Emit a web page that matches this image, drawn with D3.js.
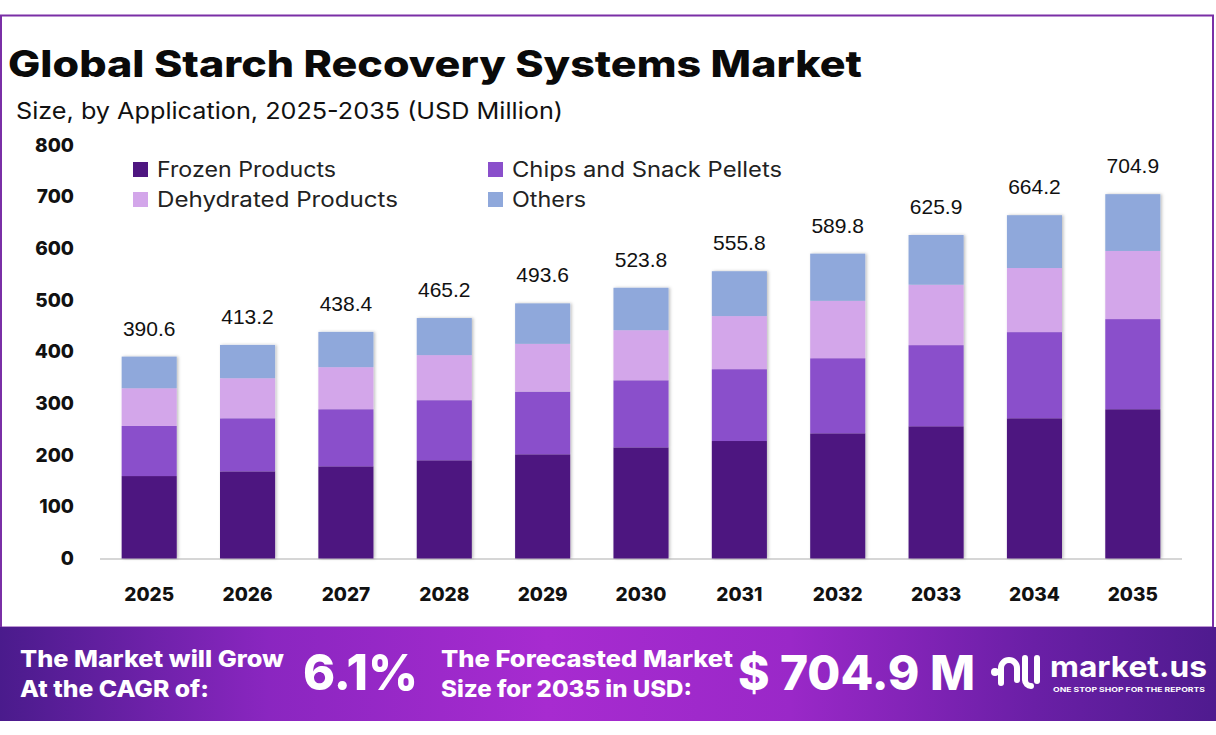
<!DOCTYPE html>
<html><head><meta charset="utf-8">
<script src="https://cdn.jsdelivr.net/npm/d3@7/dist/d3.min.js"></script>
<style>body{margin:0;background:#fff;}svg{display:block;font-family:Inter,"Open Sans",sans-serif;}</style>
</head><body>
<svg id="c" width="1216" height="735"></svg>
<script>
const years = ["2025","2026","2027","2028","2029","2030","2031","2032","2033","2034","2035"];
const totals = [390.6,413.2,438.4,465.2,493.6,523.8,555.8,589.8,625.9,664.2,704.9];
const frozen = [159.5,168.6,178.3,190.0,201.6,215.0,227.3,242.2,255.8,271.3,288.8];
const chips = [96.9,102.7,110.5,116.3,121.3,129.8,139.0,145.3,157.0,166.7,174.4];
const dehydrated = [73.0,77.5,81.4,87.2,92.4,96.9,102.7,111.0,116.9,124.0,131.8];
const others = [61.2,64.4,68.2,71.7,78.3,82.1,86.8,91.3,96.2,102.2,109.9];
const seriesNames = ["Frozen Products","Chips and Snack Pellets","Dehydrated Products","Others"];
const yTicks = [0,100,200,300,400,500,600,700,800];
const colors = ["#4e1680","#8a4fcb","#d3a6ea","#8fa8db"];

const svg = d3.select("#c");
const defs = svg.append("defs");
const sh = defs.append("filter").attr("id","sh").attr("x","-20%").attr("y","-5%").attr("width","140%").attr("height","110%");
sh.append("feDropShadow").attr("dx",1.5).attr("dy",0).attr("stdDeviation",1.5).attr("flood-color","#000").attr("flood-opacity",0.25);
const grad = defs.append("linearGradient").attr("id","bg").attr("x1","0").attr("x2","1").attr("y1","0").attr("y2","0");
[["0%","#4a1b8c"],["22%","#8a26c0"],["45%","#a72bd0"],["65%","#9a28c8"],["85%","#6a1fa6"],["100%","#4f1b8f"]].forEach(s=>grad.append("stop").attr("offset",s[0]).attr("stop-color",s[1]));

// frame
svg.append("rect").attr("x",1).attr("y",15.5).attr("width",1212).attr("height",612).attr("fill","none").attr("stroke","#7a2fa6").attr("stroke-width",2);

// titles
svg.append("text").attr("x",8).attr("y",77).attr("font-size",37).attr("font-weight",800).attr("fill","#0a0a0a")
  .attr("textLength",854).attr("lengthAdjust","spacingAndGlyphs").text("Global Starch Recovery Systems Market");
svg.append("text").attr("x",16).attr("y",119).attr("font-size",23).attr("font-weight",400).attr("fill","#111")
  .attr("textLength",547).attr("lengthAdjust","spacingAndGlyphs").text("Size, by Application, 2025-2035 (USD Million)");

// scales
const x = d3.scaleBand().domain(years).range([100,1182]).paddingInner(0.44).paddingOuter(0.22);
const y = d3.scaleLinear().domain([0,800]).range([558.5,145]);

// axes
const yAx = svg.append("g").attr("transform","translate(74,0)")
  .call(d3.axisLeft(y).tickValues(yTicks).tickSize(0).tickPadding(0));
yAx.select(".domain").remove();
yAx.selectAll("text").attr("font-size",19).attr("font-weight",800).attr("fill","#111").attr("font-family","Inter,sans-serif");

const xAx = svg.append("g").attr("transform","translate(0,559)")
  .call(d3.axisBottom(x).tickSize(0).tickPadding(29));
xAx.select(".domain").attr("stroke","#d6d6d6").attr("stroke-width",2).attr("d","M100,0H1182");
xAx.selectAll("text").attr("font-size",19).attr("font-weight",800).attr("fill","#111").attr("font-family","Inter,sans-serif");

// stacked data
const rows = years.map((yr,i)=>({year:yr, s0:frozen[i], s1:chips[i], s2:dehydrated[i], s3:others[i]}));
const stack = d3.stack().keys(["s0","s1","s2","s3"])(rows);
const gBars = svg.append("g");
gBars.selectAll("g.bar").data(years).join("g").attr("class","bar").attr("filter","url(#sh)")
  .each(function(yr,i){
    const g = d3.select(this);
    stack.forEach((layer,k)=>{
      const d = layer[i];
      g.append("rect").attr("x",x(yr)).attr("width",x.bandwidth())
        .attr("y",y(d[1])).attr("height",y(d[0])-y(d[1])).attr("fill",colors[k]);
    });
  });

// total labels
svg.append("g").selectAll("text").data(years).join("text")
  .attr("x",d=>x(d)+x.bandwidth()/2).attr("y",(d,i)=>y(stack[3][i][1])-21)
  .attr("text-anchor","middle").attr("font-size",21).attr("fill","#111").attr("font-family","'Liberation Sans',Arial,sans-serif")
  .text((d,i)=>totals[i].toFixed(1));

// legend
const legPos = [[133,177],[488,177],[133,207],[488,207]];
const legW = [179,270,241,74];
seriesNames.forEach((n,i)=>{
  const [lx,ly]=legPos[i];
  svg.append("rect").attr("x",lx).attr("y",ly-15).attr("width",15).attr("height",15).attr("fill",colors[i]);
  svg.append("text").attr("x",lx+24).attr("y",ly).attr("font-size",21).attr("fill","#222")
    .attr("textLength",legW[i]).attr("lengthAdjust","spacingAndGlyphs").text(n);
});

// banner
svg.append("rect").attr("x",0).attr("y",627).attr("width",1216).attr("height",94).attr("fill","url(#bg)");
const bt = (t,xx,yy,fs,w,fw)=>svg.append("text").attr("x",xx).attr("y",yy).attr("font-size",fs).attr("font-weight",fw||800)
  .attr("fill","#fff").attr("textLength",w).attr("lengthAdjust","spacingAndGlyphs").text(t);
bt("The Market will Grow",20,667,23,264);
bt("At the CAGR of:",20,697,23,189);
bt("6.1%",303,690,50,115);
bt("The Forecasted Market",441,667,23,292);
bt("Size for 2035 in USD:",441,697,23,251);
bt("$ 704.9 M",738,690,48,237);

// logo
const lg = svg.append("g").attr("fill","none").attr("stroke","#fff").attr("stroke-linecap","round").attr("stroke-width",6);
svg.append("circle").attr("cx",995).attr("cy",672).attr("r",4).attr("fill","#fff");
lg.append("path").attr("d","M1001,683 V668 a8,8 0 0 1 16,0 V680");
lg.append("path").attr("d","M1025,658 V680 a6,6 0 0 0 6,6");
lg.append("path").attr("d","M1037,658 V681");
svg.append("text").attr("x",1050).attr("y",677).attr("font-size",29).attr("font-weight",700).attr("fill","#fff")
  .attr("textLength",157).attr("lengthAdjust","spacingAndGlyphs").text("market.us");
svg.append("text").attr("x",1053).attr("y",692).attr("font-size",6.5).attr("font-weight",700).attr("fill","#fff")
  .attr("textLength",152).attr("lengthAdjust","spacingAndGlyphs").text("ONE STOP SHOP FOR THE REPORTS");
</script>
</body></html>
